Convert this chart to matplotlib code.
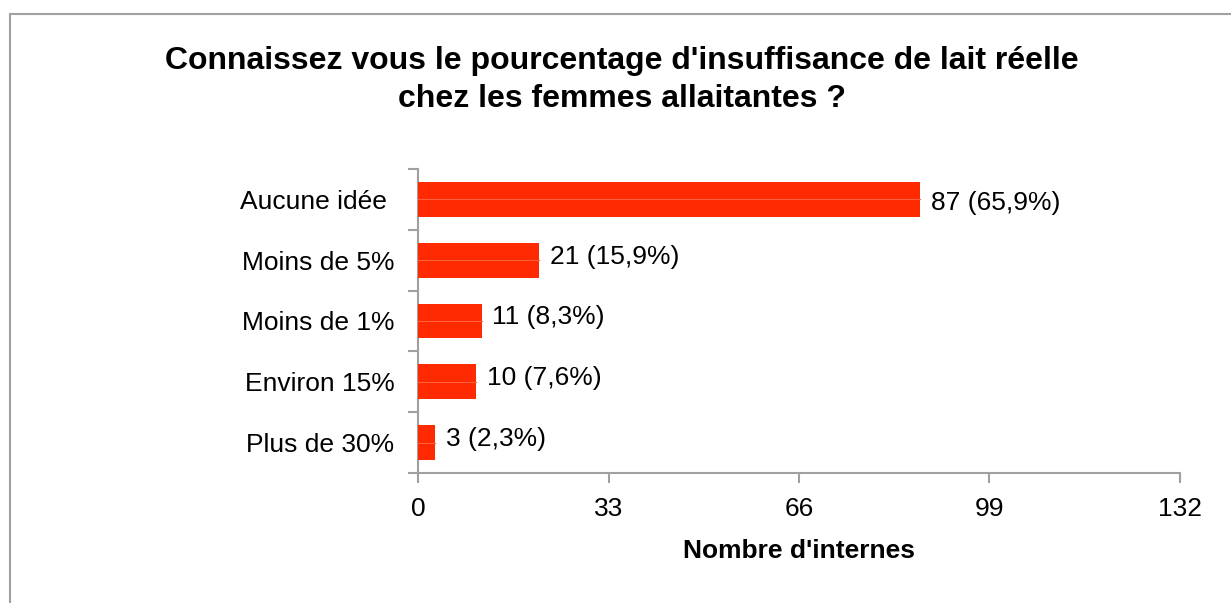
import matplotlib
matplotlib.use("Agg")
import matplotlib.pyplot as plt
from matplotlib.patches import Rectangle

plt.rcParams["font.family"] = ["Liberation Sans", "DejaVu Sans"]

categories = ["Aucune idée ", "Moins de 5%", "Moins de 1%", "Environ 15%", "Plus de 30%"]
counts = [87, 21, 11, 10, 3]
percents = ["65,9", "15,9", "8,3", "7,6", "2,3"]
xticks = [0, 33, 66, 99, 132]

BAR = "#FF2A00"
HIGHLIGHT = "#FF6040"
GREY = "#A0A0A0"

fig = plt.figure(figsize=(12.31, 6.03), dpi=100)
ax = fig.add_axes([418 / 1231, 1 - 473 / 603, (1180 - 418) / 1231, (473 - 169) / 603])

# outer frame, cut by the figure edge on the right and bottom
fig.patches.append(Rectangle((10 / 1231, -0.1), 1.2, 1 - 14 / 603 + 0.1,
                             transform=fig.transFigure, fill=False,
                             edgecolor=GREY, linewidth=1.5))

n = len(categories)
pos = list(range(n))
ax.barh(pos, counts, height=0.57, color=BAR, zorder=3)
for i, (y, c, p) in enumerate(zip(pos, counts, percents)):
    ax.plot([0, c], [y, y], color=HIGHLIGHT, linewidth=0.8, zorder=4)
    # the long bar's label sits a touch low, the others a touch high
    dy = 0.06 if i == 0 else -0.06
    ax.text(c + 1.9, y + dy, f"{c} ({p}%)", va="center", ha="left", fontsize=19)

ax.set_ylim(n - 0.5, -0.5)
ax.set_xlim(0, 132)
ax.set_xticks(xticks)
ax.set_xticklabels([str(t) for t in xticks], fontsize=19)
ax.set_yticks(pos)
ax.set_yticklabels(categories, fontsize=19)
ax.set_yticks([i - 0.5 for i in range(n + 1)], minor=True)
ax.tick_params(axis="y", which="major", length=0, pad=17)
ax.tick_params(axis="y", which="minor", length=7, width=1.5, color=GREY, direction="out")
ax.tick_params(axis="x", length=7, width=1.5, color=GREY, pad=10)

for side in ("top", "right"):
    ax.spines[side].set_visible(False)
for side in ("left", "bottom"):
    ax.spines[side].set_color(GREY)
    ax.spines[side].set_linewidth(1.5)

ax.set_xlabel("Nombre d'internes", fontsize=19, fontweight="bold", labelpad=13)

fig.text(622 / 1231, 1 - 80 / 603,
         "Connaissez vous le pourcentage d'insuffisance de lait réelle\nchez les femmes allaitantes ?",
         ha="center", va="center", fontsize=23, fontweight="bold", linespacing=1.35)

fig.savefig("out.png", dpi=100)
